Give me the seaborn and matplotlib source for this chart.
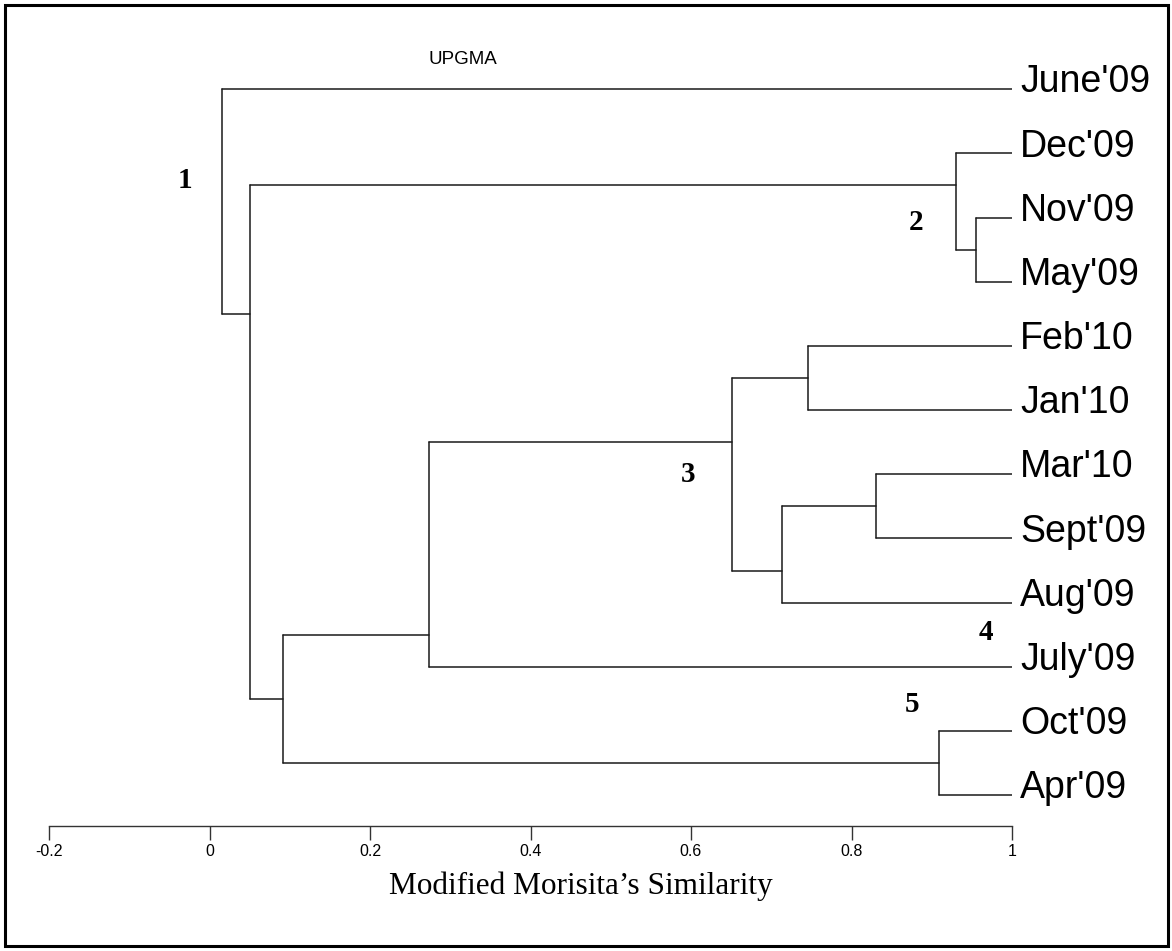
import matplotlib
matplotlib.use("Agg")
import matplotlib.pyplot as plt
import pandas as pd
import seaborn as sns
from matplotlib.patches import Rectangle

# leaves, top to bottom
leaves = ["June'09", "Dec'09", "Nov'09", "May'09", "Feb'10", "Jan'10",
          "Mar'10", "Sept'09", "Aug'09", "July'09", "Oct'09", "Apr'09"]

# UPGMA merges: index < 12 is a leaf, 12+ is an earlier merge
merge_left = [2, 1, 4, 6, 15, 14, 17, 10, 18, 13, 0]
merge_right = [3, 12, 5, 7, 8, 16, 9, 11, 19, 20, 21]
merge_sim = [0.955, 0.930, 0.746, 0.830, 0.714, 0.651, 0.273, 0.909, 0.092, 0.051, 0.015]

cluster_ids = ["1", "2", "3", "4", "5"]
cluster_x = [-0.031, 0.881, 0.596, 0.968, 0.876]
cluster_y = [1.43, 2.07, 6.01, 8.47, 9.58]

ticks = [-0.2, 0, 0.2, 0.4, 0.6, 0.8, 1.0]
tick_labels = ["-0.2", "0", "0.2", "0.4", "0.6", "0.8", "1"]

sns.set_style("white")
narrow = ["Liberation Sans Narrow", "Liberation Sans", "DejaVu Sans"]
plt.rcParams["font.family"] = narrow
plt.rcParams["text.color"] = "black"
plt.rcParams["xtick.color"] = "black"
plt.rcParams["axes.labelcolor"] = "black"

# node positions: x = similarity, y = boundary between the two children
n = len(leaves)
node_x = {i: 1.0 for i in range(n)}
first = {i: i for i in range(n)}
last = {i: i for i in range(n)}
node_y = {i: float(i) for i in range(n)}
rows = []
seg = 0
for k, (a, b, s) in enumerate(zip(merge_left, merge_right, merge_sim)):
    node = n + k
    first[node] = first[a]
    last[node] = last[b]
    node_x[node] = s
    node_y[node] = (last[a] + first[b]) / 2
    for xs, ys in [((s, s), (node_y[a], node_y[b])),
                   ((s, node_x[a]), (node_y[a], node_y[a])),
                   ((s, node_x[b]), (node_y[b], node_y[b]))]:
        for x, y in zip(xs, ys):
            rows.append({"seg": seg, "x": x, "y": y})
        seg += 1
segs = pd.DataFrame(rows)

fig = plt.figure(figsize=(11.72, 9.51), dpi=100)
ax = fig.add_axes([49 / 1172, 0.1314, 963 / 1172, 0.8086])

sns.lineplot(data=segs, x="x", y="y", units="seg", estimator=None, sort=False,
             color="#1a1a1a", linewidth=1.1, legend=False, ax=ax)

ax.set_xlim(-0.2, 1.0)
ax.set_ylim(11.48, -0.5)
for side in ["top", "left", "right"]:
    ax.spines[side].set_visible(False)
ax.spines["bottom"].set_linewidth(1.0)
ax.spines["bottom"].set_color("#333333")
ax.set_yticks([])
ax.set_xticks(ticks)
ax.set_xticklabels(tick_labels, fontsize=11.5)
ax.tick_params(axis="x", direction="out", length=10, width=1.0, pad=3,
               color="#333333", labelcolor="black", bottom=True)
ax.set_xlabel("")
ax.set_ylabel("")

for i, name in enumerate(leaves):
    ax.text(1.01, i + 0.05, name, fontsize=27, va="baseline", ha="left",
            color="black", family=["Liberation Sans", "DejaVu Sans"], clip_on=False)

for t, x, y in zip(cluster_ids, cluster_x, cluster_y):
    ax.text(x, y, t, fontsize=21, fontweight="bold", ha="center", va="center",
            color="black", family=["Liberation Serif", "DejaVu Serif"])

fig.text(463 / 1172, 1 - 59 / 951, "UPGMA", fontsize=13.5, ha="center", va="center",
         color="black")
fig.text(581 / 1172, 1 - 886 / 951, "Modified Morisita\u2019s Similarity", fontsize=22.5,
         ha="center", va="center", color="black",
         family=["Liberation Serif", "DejaVu Serif"])

fig.patches.append(Rectangle((5 / 1172, 5 / 951), 1163 / 1172, 941 / 951,
                             transform=fig.transFigure, fill=False,
                             edgecolor="black", linewidth=2.2))

fig.savefig("out.png", dpi=100)
